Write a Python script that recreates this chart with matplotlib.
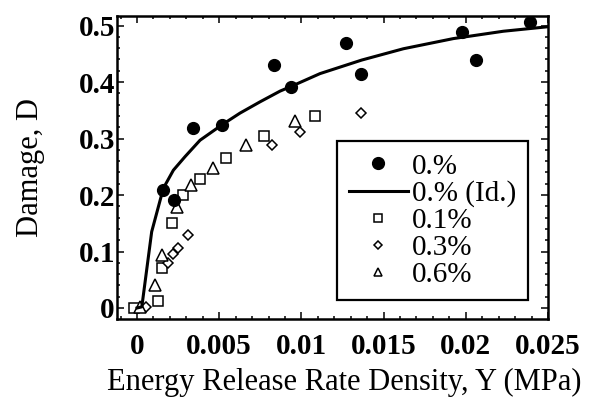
import matplotlib
matplotlib.use("Agg")
import matplotlib.pyplot as plt
from matplotlib.ticker import FixedLocator, FixedFormatter, MultipleLocator

plt.rcParams['font.family'] = ['Liberation Serif', 'DejaVu Serif']

# 0.% data (filled circles)
x_00 = [0.0016, 0.00227, 0.00339, 0.00519, 0.00833, 0.00935, 0.01271, 0.01361, 0.01975, 0.0206, 0.0239]
y_00 = [0.209, 0.191, 0.318, 0.324, 0.430, 0.391, 0.470, 0.414, 0.488, 0.439, 0.506]

# 0.% (Id.) identified curve
x_id = [0.0, 0.00029, 0.00089, 0.0016, 0.00221, 0.00292, 0.00383, 0.00515, 0.00626, 0.00748,
        0.0087, 0.00935, 0.01113, 0.01367, 0.0162, 0.01924, 0.02228, 0.025]
y_id = [0.0, 0.002, 0.135, 0.212, 0.244, 0.268, 0.297, 0.324, 0.345, 0.365,
        0.384, 0.392, 0.415, 0.439, 0.459, 0.477, 0.490, 0.498]

# 0.1%
x_01 = [-0.00018, 0.0013, 0.0015, 0.0021, 0.0028, 0.0038, 0.0054, 0.0077, 0.0108]
y_01 = [0.0, 0.012, 0.070, 0.151, 0.200, 0.228, 0.266, 0.304, 0.340]

# 0.3%
x_03 = [0.00055, 0.0019, 0.0022, 0.0025, 0.0031, 0.0082, 0.0099, 0.0136]
y_03 = [0.001, 0.080, 0.095, 0.106, 0.129, 0.288, 0.311, 0.346]

# 0.6%
x_06 = [0.0002, 0.0011, 0.0015, 0.0024, 0.0033, 0.0046, 0.0066, 0.0096]
y_06 = [0.001, 0.040, 0.094, 0.179, 0.217, 0.248, 0.289, 0.331]

labels = ['0.%', '0.% (Id.)', '0.1%', '0.3%', '0.6%']
xticks = [0, 0.005, 0.01, 0.015, 0.02, 0.025]
xticklabels = ['0', '0.005', '0.01', '0.015', '0.02', '0.025']
yticks = [0, 0.1, 0.2, 0.3, 0.4, 0.5]
yticklabels = ['0', '0.1', '0.2', '0.3', '0.4', '0.5']

fig = plt.figure(figsize=(5.9, 4.01), dpi=100)
ax = fig.add_axes([117/590, 1-319/401, (548-117)/590, (319-16)/401])

h1, = ax.plot(x_00, y_00, linestyle='none', marker='o', markersize=8.5,
              color='black', label=labels[0], zorder=4)
h2, = ax.plot(x_id, y_id, color='black', linewidth=2.2, label=labels[1], zorder=3,
              solid_joinstyle='round')
h3, = ax.plot(x_01, y_01, linestyle='none', marker='s', markersize=7.5,
              markerfacecolor='white', markeredgecolor='black', markeredgewidth=1.1,
              label=labels[2], zorder=2)
h4, = ax.plot(x_03, y_03, linestyle='none', marker='D', markersize=5.5,
              markerfacecolor='white', markeredgecolor='black', markeredgewidth=1.1,
              label=labels[3], zorder=2)
h5, = ax.plot(x_06, y_06, linestyle='none', marker='^', markersize=8,
              markerfacecolor='white', markeredgecolor='black', markeredgewidth=1.1,
              label=labels[4], zorder=2)

ax.set_xlim(-0.00122, 0.025)
ax.set_ylim(-0.0195, 0.517)

ax.xaxis.set_major_locator(FixedLocator(xticks))
ax.xaxis.set_major_formatter(FixedFormatter(xticklabels))
ax.yaxis.set_major_locator(FixedLocator(yticks))
ax.yaxis.set_major_formatter(FixedFormatter(yticklabels))
ax.xaxis.set_minor_locator(MultipleLocator(0.001))
ax.yaxis.set_minor_locator(MultipleLocator(0.02))

ax.tick_params(which='both', direction='in', top=True, right=True, width=1.1, color='black')
ax.tick_params(which='major', length=5)
ax.tick_params(which='minor', length=2.5)
ax.tick_params(axis='x', which='major', pad=10)
ax.tick_params(axis='y', which='major', pad=1.5)
for lab in ax.get_xticklabels() + ax.get_yticklabels():
    lab.set_fontsize(21)
    lab.set_fontweight('bold')

for sp in ax.spines.values():
    sp.set_linewidth(1.8)

ax.set_xlabel('Energy Release Rate Density, Y (MPa)', fontsize=22, labelpad=6)
ax.xaxis.label.set_x(0.527)
ax.set_ylabel('Damage, D', fontsize=22, labelpad=24)

leg = ax.legend(handles=[h1, h2, h3, h4, h5], loc='upper left',
                bbox_to_anchor=(220/431, 1-(141-16)/303), borderaxespad=0,
                fontsize=21, frameon=True, fancybox=False, edgecolor='black',
                handlelength=2.0, handletextpad=0.15, labelspacing=0.02,
                borderpad=0.42, framealpha=1)
leg.get_frame().set_linewidth(1.6)
for lh in leg.legend_handles:
    if lh.get_marker() in ('s', 'D', '^'):
        lh.set_markersize(lh.get_markersize() * 0.75)

fig.savefig('out.png', dpi=100)
